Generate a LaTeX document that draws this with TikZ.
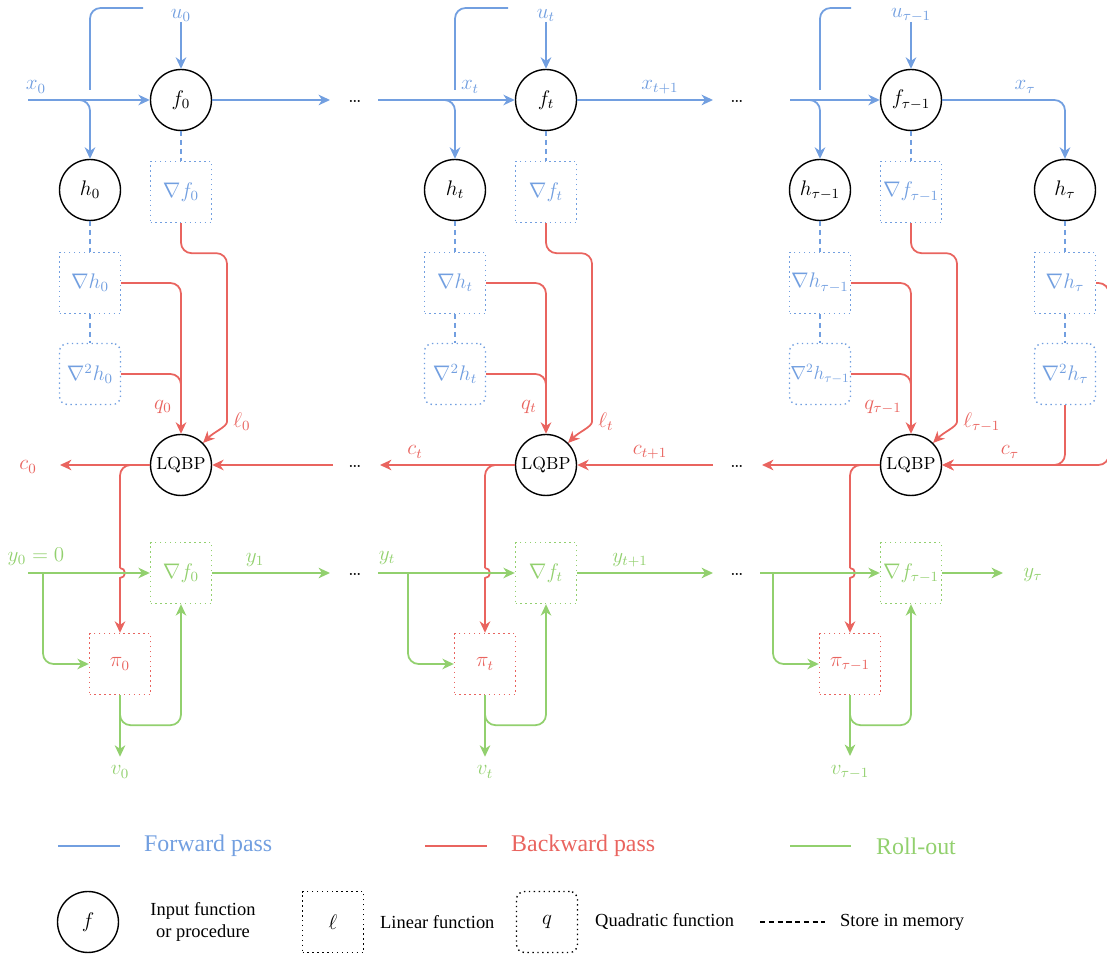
\documentclass[tikz,border=0pt]{standalone}
\usepackage{fontspec}
\newfontfamily\legendfont{Liberation Serif}
\usetikzlibrary{arrows.meta, calc}
\definecolor{FwdBlue}{RGB}{114,159,224}
\definecolor{BwdRed}{RGB}{233,100,95}
\definecolor{RollGreen}{RGB}{146,208,110}
\newcommand{\legendbig}{\legendfont\fontsize{13.6}{16}\selectfont}
\newcommand{\legendsmall}{\legendfont\fontsize{10.5}{13}\selectfont}

\tikzset{
	fun/.style={circle, draw=black, line width=0.8pt, minimum size=1.22cm, inner sep=0pt, font=\large},
	lin/.style={draw, dotted, line width=0.8pt, minimum size=1.22cm, inner sep=0pt, font=\large},
	quad/.style={lin, rounded corners=4.5pt},
	lbl/.style={font=\large, inner sep=0pt},
	arr/.style={-{Stealth[length=6.5pt, width=6pt, inset=2pt]}},
	fwdline/.style={FwdBlue, line width=1pt},
	bwdline/.style={BwdRed, line width=1pt},
	rollline/.style={RollGreen, line width=1pt},
	mem/.style={FwdBlue, line width=0.6pt, dash pattern=on 3pt off 2pt},
}

\begin{document}
\begin{tikzpicture}[x=0.02cm, y=-0.02cm]
	\useasboundingbox (0,0) rectangle (1107,955);
	\clip (0,0) rectangle (1107,955);

	% one block per time step
	\foreach \k/\s/\dx/\ue/\xs/\ys/\qs in {0/0/0/143/28/28/1, t/t/365/143/13/13/1, T/{\tau-1}/730/121/60/30/0.9}{
	\begin{scope}[xshift=\dx*0.02cm]
		\node[lbl, FwdBlue, anchor=south] (u\k) at (181,22) {$u_{\s}$};
		\node[fun] (f\k) at (181,100) {$f_{\s}$};
		\node[fun] (h\k) at (90,190) {$h_{\s}$};
		\node[lin, FwdBlue] (df\k) at (181,192) {$\nabla f_{\s}$};
		\node[lin, FwdBlue] (dh\k) at (90,283) {$\nabla h_{\s}$};
		\node[quad, FwdBlue] (ddh\k) at (90,374) {\scalebox{\qs}{$\nabla^2 h_{\s}$}};
		\node[fun, font=\normalsize] (lq\k) at (181,465) {LQBP};
		\node[lin, RollGreen] (gf\k) at (181,573) {$\nabla f_{\s}$};
		\node[lin, BwdRed] (pi\k) at (120,664) {$\pi_{\s}$};
		\node[lbl, RollGreen, inner sep=5pt] (v\k) at (120,772) {$v_{\s}$};
		\node[lbl, BwdRed, anchor=east] (q\k) at (172,407) {$q_{\s}$};
		\node[lbl, BwdRed, anchor=west] (l\k) at (233,422) {$\ell_{\s}$};
		\coordinate (xs\k) at (\xs,100);
		\coordinate (ys\k) at (\ys,573);
		\coordinate (yb\k) at (43,573);
		\coordinate (ut\k) at (\ue,8);
		\coordinate (ub\k) at (90,90);
		\coordinate (jt\k) at (120,568);
		% forward pass
		\draw[fwdline, arr] (u\k) -- (f\k);
		\draw[fwdline, rounded corners=6pt] (ut\k) -| (ub\k);
		\draw[fwdline, arr] (xs\k) -- (f\k);
		\draw[fwdline, arr, rounded corners=6pt] (xs\k) -| (h\k);
		\draw[mem] (f\k) -- (df\k);
		\draw[mem] (h\k) -- (dh\k);
		\draw[mem] (dh\k) -- (ddh\k);
		% backward pass
		\draw[bwdline, arr, rounded corners=6pt] (df\k.south) -- ++(0,30) -- ++(46,0) -- ++(0,158) to[out=-90, in=45] (lq\k.45);
		\draw[bwdline, arr, rounded corners=6pt] (dh\k) -| (lq\k);
		\draw[bwdline, rounded corners=6pt] (ddh\k.east) -| ($(lq\k.north)+(0,-40)$);
		\draw[bwdline, rounded corners=6pt] (lq\k) -| (jt\k);
		\draw[bwdline, arr] (jt\k) arc[start angle=90, end angle=-90, radius=0.1cm] -- (pi\k);
		% roll-out
		\draw[rollline, arr] (ys\k) -- (gf\k);
		\draw[rollline, arr, rounded corners=6pt] (yb\k) |- (pi\k);
		\draw[rollline, arr] (pi\k) -- (v\k);
		\draw[rollline, arr, rounded corners=6pt] (pi\k.south) -- ++(0,30) -| (gf\k);
	\end{scope}
	}

	% first step
	\node[lbl, FwdBlue] (x0) at (36,87) {$x_0$};
	\node[lbl, RollGreen] (y0) at (36,557) {$y_0=0$};
	\node[lbl, BwdRed] (c0) at (28,467) {$c_0$};
	\node[lbl, RollGreen] (y1) at (255,560) {$y_1$};
	\node[lbl] (da1) at (355,101) {\dots};
	\node[lbl] (da2) at (355,466) {\dots};
	\node[lbl] (da3) at (355,574) {\dots};
	\coordinate (xo0) at (330,100);
	\coordinate (ci0) at (333,465);
	\coordinate (co0) at (60,465);
	\coordinate (yo0) at (330,573);
	\draw[fwdline, arr] (f0) -- (xo0);
	\draw[bwdline, arr] (ci0) -- (lq0);
	\draw[bwdline, arr] (lq0) -- (co0);
	\draw[rollline, arr] (gf0) -- (yo0);

	% step t
	\node[lbl, FwdBlue] (xt) at (470,87) {$x_t$};
	\node[lbl, FwdBlue] (xt1) at (660,87) {$x_{t+1}$};
	\node[lbl, BwdRed] (ct) at (415,452) {$c_t$};
	\node[lbl, BwdRed] (ct1) at (650,452) {$c_{t+1}$};
	\node[lbl, RollGreen] (yt) at (387,558) {$y_t$};
	\node[lbl, RollGreen] (yt1) at (630,560) {$y_{t+1}$};
	\node[lbl] (db1) at (737,101) {\dots};
	\node[lbl] (db2) at (737,466) {\dots};
	\node[lbl] (db3) at (737,574) {\dots};
	\coordinate (xot) at (713,100);
	\coordinate (cit) at (713,465);
	\coordinate (cot) at (380,465);
	\coordinate (yot) at (713,573);
	\draw[fwdline, arr] (ft) -- (xot);
	\draw[bwdline, arr] (cit) -- (lqt);
	\draw[bwdline, arr] (lqt) -- (cot);
	\draw[rollline, arr] (gft) -- (yot);

	% last step
	\node[fun] (htau) at (1065,190) {$h_\tau$};
	\node[lin, FwdBlue] (dhtau) at (1065,283) {$\nabla h_\tau$};
	\node[quad, FwdBlue] (ddhtau) at (1065,374) {$\nabla^2 h_\tau$};
	\node[lbl, FwdBlue] (xtau) at (1025,87) {$x_\tau$};
	\node[lbl, BwdRed] (ctau) at (1010,452) {$c_\tau$};
	\node[lbl, RollGreen] (ytau) at (1033,575) {$y_\tau$};
	\coordinate (coT) at (762,465);
	\coordinate (yoT) at (1003,573);
	\coordinate (rc) at (1109,465);
	\draw[fwdline, arr, rounded corners=6pt] (fT) -| (htau);
	\draw[mem] (htau) -- (dhtau);
	\draw[mem] (dhtau) -- (ddhtau);
	\draw[bwdline, arr, rounded corners=6pt] (dhtau) -| (rc) -- (lqT);
	\draw[bwdline, arr, rounded corners=6pt] (ddhtau) |- (lqT);
	\draw[bwdline, arr] (lqT) -- (coT);
	\draw[rollline, arr] (gfT) -- (yoT);

	% legend
	\draw[fwdline, line width=1.6pt] (58,846) -- (120,846);
	\node[anchor=west, FwdBlue, font=\legendbig] at (138,846) {Forward pass};
	\draw[bwdline, line width=1.6pt] (425,846) -- (487,846);
	\node[anchor=west, BwdRed, font=\legendbig] at (505,846) {Backward pass};
	\draw[rollline, line width=1.6pt] (790,846) -- (851,846);
	\node[anchor=west, RollGreen, font=\legendbig] at (870,846) {Roll-out};

	\node[fun] (kf) at (88,922) {$f$};
	\node[align=center, font=\legendsmall] at (203,922) {Input function\\or procedure};
	\node[lin] (kl) at (333,922) {$\ell$};
	\node[anchor=west, font=\legendsmall] at (374,922) {Linear function};
	\node[quad] (kq) at (547,922) {$q$};
	\node[anchor=west, font=\legendsmall] at (589,922) {Quadratic function};
	\draw[line width=0.6pt, dash pattern=on 3pt off 2pt] (760,922) -- (825,922);
	\node[anchor=west, font=\legendsmall] at (834,922) {Store in memory};
\end{tikzpicture}
\end{document}
